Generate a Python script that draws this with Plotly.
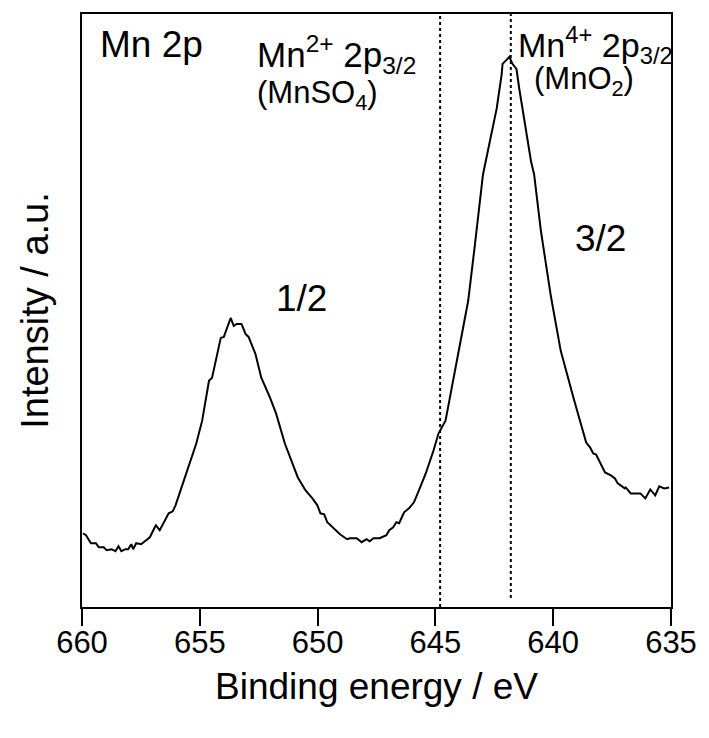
import plotly.graph_objects as go

# Binding energy (eV) and intensity (a.u.)
energy = [659.96, 659.83, 659.62, 659.41, 659.29, 659.08, 658.95, 658.75, 658.58, 658.45,
          658.33, 658.16, 658.04, 657.91, 657.83, 657.70, 657.49, 657.28, 657.12, 656.91,
          656.86, 656.70, 656.53, 656.32, 656.15, 656.03, 655.86, 655.53, 655.15, 654.90,
          654.61, 654.48, 654.11, 653.98, 653.85, 653.69, 653.56, 653.44, 653.23, 653.06,
          652.93, 652.64, 652.39, 652.02, 651.76, 651.39, 650.84, 650.51, 650.22, 650.01,
          649.88, 649.72, 649.59, 649.30, 649.05, 648.75, 648.63, 648.34, 648.13, 647.92,
          647.79, 647.63, 647.37, 647.08, 646.96, 646.79, 646.66, 646.54, 646.33, 646.12,
          645.91, 645.70, 645.41, 645.08, 644.87, 644.57, 644.16, 643.82, 643.61, 643.32,
          642.98, 642.69, 642.40, 642.19, 642.15, 641.98, 641.86, 641.73, 641.56, 641.44,
          641.31, 641.10, 640.94, 640.81, 640.52, 640.10, 639.68, 639.14, 638.72, 638.60,
          638.43, 638.30, 638.18, 638.01, 637.80, 637.55, 637.38, 637.26, 637.13, 636.96,
          636.92, 636.71, 636.50, 636.30, 636.09, 635.88, 635.67, 635.50, 635.29, 635.08]
intensity = [74, 72, 64, 64, 60, 60, 57, 58, 56, 61,
             56, 58, 58, 63, 58, 64, 63, 67, 70, 80,
             82, 77, 85, 94, 96, 102, 114, 137, 164, 187,
             227, 230, 270, 271, 279, 290, 282, 284, 284, 274,
             271, 254, 230, 210, 194, 164, 130, 117, 109, 102,
             94, 93, 85, 79, 73, 68, 69, 69, 65, 68,
             66, 69, 69, 72, 77, 80, 85, 84, 95, 99,
             105, 117, 134, 157, 174, 187, 237, 280, 307, 364,
             434, 467, 500, 534, 545, 549, 552, 545, 540, 520,
             500, 467, 447, 434, 377, 312, 257, 210, 177, 165,
             160, 154, 153, 145, 135, 132, 129, 124, 122, 119,
             120, 114, 114, 114, 109, 118, 112, 121, 119, 120]

ref_energies = [644.8, 641.8]   # Mn2+ (MnSO4) and Mn4+ (MnO2) 2p3/2 references
x_ticks = [660, 655, 650, 645, 640, 635]

FONT = "Liberation Sans, Arial, Helvetica, sans-serif"

fig = go.Figure()
fig.add_trace(go.Scatter(x=energy, y=intensity, mode="lines",
                         line=dict(color="black", width=2), showlegend=False))

for i, e in enumerate(ref_energies):
    fig.add_shape(type="line", xref="x", yref="paper", x0=e, x1=e,
                  y0=0 if i == 0 else 0.015, y1=1,
                  line=dict(color="black", width=2, dash="dot"))

def ann(text, x, y, size, xanchor="left"):
    fig.add_annotation(text=text, x=x, y=y, xref="x", yref="y", showarrow=False,
                       xanchor=xanchor, yanchor="middle",
                       font=dict(family=FONT, size=size, color="black"))

ann("Mn 2p", 659.3, 564, 37)
ann("Mn<sup>2+</sup> 2p<sub>3/2</sub>", 652.64, 554, 35)
ann("(MnSO<sub>4</sub>)", 652.64, 514, 31)
ann("Mn<sup>4+</sup> 2p<sub>3/2</sub>", 641.56, 564, 34)
ann("(MnO<sub>2</sub>)", 640.89, 528, 31)
ann("1/2", 650.68, 310, 37, xanchor="center")
ann("3/2", 638.01, 370, 37, xanchor="center")

fig.update_layout(
    width=709, height=738,
    margin=dict(l=82, r=26, t=12, b=131),
    paper_bgcolor="white", plot_bgcolor="white",
    font=dict(family=FONT, color="black"),
    xaxis=dict(range=[660, 635], tickvals=x_ticks, ticks="outside", ticklen=17,
               tickwidth=2, tickcolor="black", showline=True, linecolor="black",
               linewidth=2, mirror=True, showgrid=False, zeroline=False,
               tickfont=dict(size=31, family=FONT), ticklabelstandoff=-10,
               ticklabeloverflow="allow",
               title=dict(text="Binding energy / eV", font=dict(size=37, family=FONT),
                          standoff=14)),
    yaxis=dict(range=[0, 595], showticklabels=False, ticks="", showline=True,
               linecolor="black", linewidth=2, mirror=True, showgrid=False,
               zeroline=False,
               title=dict(text="Intensity / a.u.", font=dict(size=38, family=FONT),
                          standoff=20)),
)

fig.write_html("out.html")
